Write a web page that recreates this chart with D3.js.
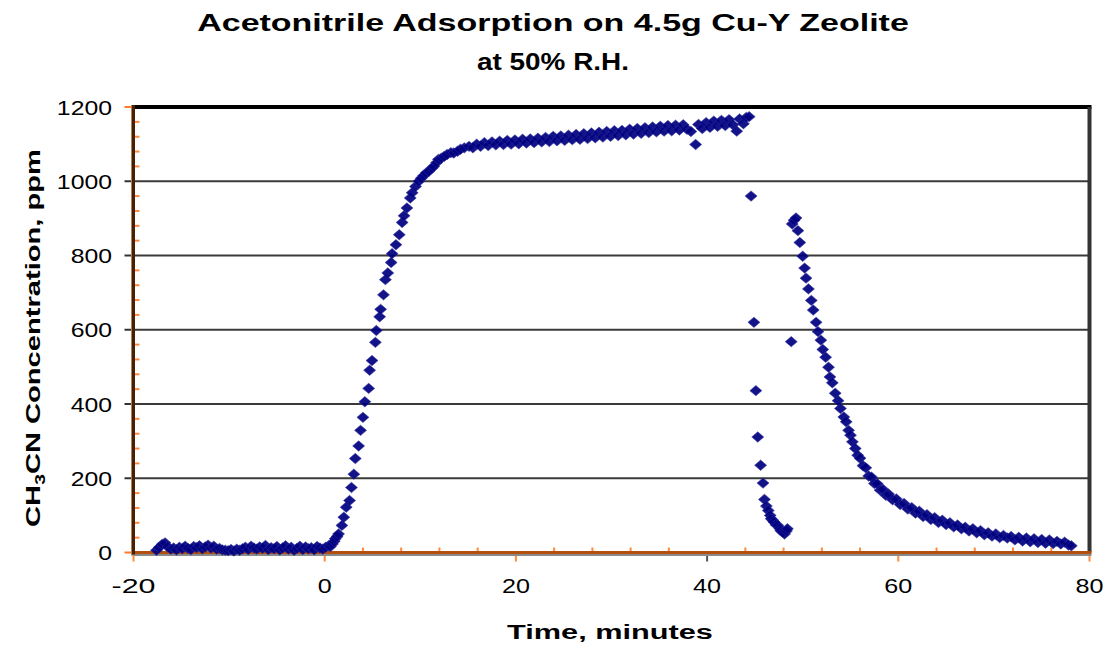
<!DOCTYPE html>
<html><head><meta charset="utf-8">
<script src="https://cdn.jsdelivr.net/npm/d3@7"></script>
<style>html,body{margin:0;padding:0;background:#fff;}svg{display:block;}</style>
</head><body>
<svg id="chart" width="1108" height="646"></svg>
<script>
// ---- data (time in minutes, CH3CN concentration in ppm) ----
const titleLines = ["Acetonitrile Adsorption on 4.5g Cu-Y Zeolite", "at 50% R.H."];
const xLabel = "Time, minutes";
const xTicks = [-20, 0, 20, 40, 60, 80];
const yTicks = [0, 200, 400, 600, 800, 1000, 1200];

const baselineTime = [-17.6,-17.3,-17.0,-16.7,-16.4,-16.1,-15.8,-15.5,-15.2,-14.9,-14.6,-14.3,-14.0,-13.7,-13.4,-13.1,-12.8,-12.5,-12.2,-11.9,-11.6,-11.3,-11.0,-10.7,-10.4,-10.1,-9.8,-9.5,-9.2,-8.9,-8.6,-8.3,-8.0,-7.7,-7.4,-7.1,-6.8,-6.5,-6.2,-5.9,-5.6,-5.3,-5.0,-4.7,-4.4,-4.1,-3.8,-3.5,-3.2,-2.9,-2.6,-2.3,-2.0,-1.7,-1.4,-1.1,-0.8,-0.5,-0.2,0.1,0.4];
const baselineConc = [6,14,22,26,15,9,12,7,14,10,17,11,8,16,13,18,10,15,20,12,17,9,11,7,6,5,8,4,9,6,10,14,8,17,12,9,15,11,19,8,13,10,16,7,12,18,9,14,6,11,17,8,15,10,13,7,16,12,9,14,18];

const riseTime = [0.6,0.8,1.0,1.1,1.3,1.45,1.8,2.0,2.25,2.6,2.8,3.05,3.2,3.55,3.75,4.0,4.2,4.6,4.7,4.95,5.3,5.4,5.75,5.85,6.15,6.35,6.6,6.95,7.05,7.45,7.8,8.1,8.3,8.6,8.95,9.15,9.5,9.85,10.1,10.35,10.6,10.9,11.2,11.4,11.7,11.9,12.2,12.5,12.8,13.2,13.5,13.9,14.2,14.6,15.1];
const riseConc = [16,23,30,37,43,50,73,95,122,140,175,211,253,287,329,364,406,442,491,517,566,598,635,655,694,735,753,781,805,829,856,889,907,928,955,969,986,1000,1008,1015,1022,1027,1035,1040,1050,1059,1062,1067,1072,1077,1076,1081,1086,1090,1094];

const plateauTime = [15.5,15.9,16.3,16.7,17.1,17.5,17.9,18.3,18.7,19.1,19.5,19.9,20.3,20.7,21.1,21.5,21.9,22.3,22.7,23.1,23.5,23.9,24.3,24.7,25.1,25.5,25.9,26.3,26.7,27.1,27.5,27.9,28.3,28.7,29.1,29.5,29.9,30.3,30.7,31.1,31.5,31.9,32.3,32.7,33.1,33.5,33.9,34.3,34.7,35.1,35.5,35.9,36.3,36.7,37.1,37.5,37.9,38.3,38.8,39.1,39.5,39.9,40.3,40.7,41.1,41.5,41.9,42.3,42.7,43.1,43.4,43.8,44.1,44.4];
const plateauConc = [1090,1100,1094,1104,1096,1106,1098,1108,1099,1110,1100,1111,1101,1113,1103,1114,1104,1116,1106,1118,1107,1121,1109,1122,1110,1124,1112,1126,1113,1128,1115,1130,1117,1132,1119,1134,1121,1136,1123,1137,1125,1140,1127,1142,1129,1144,1131,1146,1133,1148,1135,1150,1136,1151,1138,1152,1140,1134,1099,1153,1142,1158,1145,1162,1148,1164,1150,1166,1152,1135,1168,1155,1172,1174];

const dropTime = [44.6,44.9,45.1,45.3,45.6,45.85,46.0,46.2,46.4,46.6,46.7,46.9,47.0,47.2,47.4,47.6,47.7,47.9,48.1,48.3,48.4,48.8];
const dropConc = [960,620,436,311,235,187,143,125,113,100,91,86,82,75,73,65,59,55,50,58,64,568];

const purgeTime = [48.9,49.1,49.3,49.5,49.7,50.0,50.2,50.35,50.6,50.9,51.1,51.4,51.6,51.9,52.1,52.4,52.7,52.85,53.1,53.4,53.7,53.95,54.3,54.55,54.8,55.0,55.2,55.5,55.75,56.0,56.3,56.6,56.9,57.2,57.5,57.8,58.1,58.4,58.7,59.0,59.4,59.8,60.2,60.6,61.0,61.4,61.8,62.2,62.6,63.0,63.4,63.8,64.2,64.6,65.0,65.4,65.8,66.2,66.6,67.0,67.4,67.8,68.2,68.6,69.0,69.4,69.8,70.2,70.6,71.0,71.4,71.8,72.2,72.6,73.0,73.4,73.8,74.2,74.6,75.0,75.4,75.8,76.2,76.6,77.0,77.4,77.8,78.1];
const purgeConc = [885,895,901,867,835,798,766,739,710,679,653,620,595,572,547,526,499,473,457,429,409,388,365,352,329,316,298,280,262,254,234,228,206,203,186,185,168,170,154,157,142,144,129,132,117,121,106,111,97,102,89,94,81,87,75,80,69,74,64,68,58,64,53,59,48,53,44,50,40,46,39,43,34,41,31,39,29,37,27,35,25,34,24,30,23,28,20,18];

// ---- layout ----
const svg = d3.select("#chart");
const plot = {left: 133.5, right: 1089.5, top: 107, bottom: 552.5};
const x = d3.scaleLinear().domain([-20, 80]).range([plot.left, plot.right]);
const y = d3.scaleLinear().domain([0, 1200]).range([plot.bottom, plot.top]);

const FONT = "'Liberation Sans', Arial, sans-serif";

function stretchedText(parent, str, tx, ty, size, weight, anchor, targetW, rotate) {
  const g = parent.append("g");
  const t = g.append("text").attr("x", 0).attr("y", 0)
    .attr("font-family", FONT).attr("font-size", size).attr("font-weight", weight)
    .attr("text-anchor", anchor).attr("fill", "#000").text(str);
  const len = t.node().getComputedTextLength();
  const sx = targetW ? targetW / len : 1;
  g.attr("transform", `translate(${tx},${ty})` + (rotate ? ` rotate(${rotate})` : "") + ` scale(${sx},1)`);
  return t;
}

// gridlines
svg.append("g").selectAll("line").data(yTicks.filter(v => v > 0 && v < 1200)).join("line")
  .attr("x1", plot.left).attr("x2", plot.right)
  .attr("y1", d => y(d)).attr("y2", d => y(d))
  .attr("stroke", "#3a3a3a").attr("stroke-width", 2);

// top and right frame
svg.append("line").attr("x1", plot.left).attr("x2", plot.right + 2).attr("y1", plot.top).attr("y2", plot.top)
  .attr("stroke", "#000").attr("stroke-width", 4);
svg.append("line").attr("x1", plot.right).attr("x2", plot.right).attr("y1", plot.top).attr("y2", plot.bottom)
  .attr("stroke", "#333").attr("stroke-width", 4);

// minor ticks
const xMinor = d3.range(-20, 80.01, 4).filter(v => v % 20 !== 0);
svg.append("g").selectAll("line").data(xMinor).join("line")
  .attr("x1", d => x(d)).attr("x2", d => x(d)).attr("y1", plot.bottom).attr("y2", plot.bottom - 5)
  .attr("stroke", "#ff8a3c").attr("stroke-width", 2);
const yMinor = d3.range(0, 1200.01, 40).filter(v => v % 200 !== 0);
svg.append("g").selectAll("line").data(yMinor).join("line")
  .attr("x1", plot.left).attr("x2", plot.left + 6).attr("y1", d => y(d)).attr("y2", d => y(d))
  .attr("stroke", "#ff8a3c").attr("stroke-width", 2);

// major ticks
svg.append("g").selectAll("line").data(yTicks).join("line")
  .attr("x1", plot.left - 9).attr("x2", plot.left).attr("y1", d => y(d)).attr("y2", d => y(d))
  .attr("stroke", d => (d === 0 || d === 1200) ? "#ff7a2a" : "#333").attr("stroke-width", 2);
svg.append("g").selectAll("line").data(xTicks).join("line")
  .attr("x1", d => x(d)).attr("x2", d => x(d)).attr("y1", plot.bottom).attr("y2", plot.bottom + 9)
  .attr("stroke", d => d === 40 ? "#555" : "#ff8a3c").attr("stroke-width", 2);

// axes lines
svg.append("line").attr("x1", plot.left).attr("x2", plot.right + 2).attr("y1", plot.bottom + 2.5).attr("y2", plot.bottom + 2.5)
  .attr("stroke", "#8a8a8a").attr("stroke-width", 2);
svg.append("line").attr("x1", plot.left).attr("x2", plot.right + 2).attr("y1", plot.bottom).attr("y2", plot.bottom)
  .attr("stroke", "#b4500e").attr("stroke-width", 3);
svg.append("line").attr("x1", plot.left - 1.5).attr("x2", plot.left - 1.5).attr("y1", plot.top - 2).attr("y2", plot.bottom + 3)
  .attr("stroke", "#a6845a").attr("stroke-width", 2);
svg.append("line").attr("x1", plot.left).attr("x2", plot.left).attr("y1", plot.top - 2).attr("y2", plot.bottom + 2)
  .attr("stroke", "#4a1f02").attr("stroke-width", 3);

// data points
const segments = [
  [baselineTime, baselineConc],
  [riseTime, riseConc],
  [plateauTime, plateauConc],
  [dropTime, dropConc],
  [purgeTime, purgeConc]
];
const points = segments.flatMap(([ts, vs]) => ts.map((t, i) => ({t, v: vs[i]})));
svg.append("g").selectAll("path").data(points).join("path")
  .attr("d", "M0,-5.2 L6,0 L0,5.2 L-6,0Z")
  .attr("transform", d => `translate(${x(d.t)},${y(d.v)})`)
  .attr("fill", "#000080").attr("stroke", "#2a2a9a").attr("stroke-width", 0.6).attr("opacity", 0.92);

// tick labels
yTicks.forEach(v => stretchedText(svg, String(v), 112, y(v) + 7.5, 20, "normal", "end", String(v).length * 13.8));
xTicks.forEach(v => stretchedText(svg, String(v), x(v), 593, 20, "normal", "middle", String(v).length * 14 + (v < 0 ? 2 : 0)));

// titles
stretchedText(svg, titleLines[0], 553, 31, 24, "bold", "middle", 712);
stretchedText(svg, titleLines[1], 553, 70, 24, "bold", "middle", 152);
stretchedText(svg, xLabel, 610, 639, 21, "bold", "middle", 206);

// y-axis title with subscript
const yg = svg.append("g");
const yt = yg.append("text").attr("font-family", FONT).attr("font-size", 21).attr("font-weight", "bold")
  .attr("text-anchor", "middle").attr("fill", "#000");
yt.append("tspan").text("CH");
yt.append("tspan").text("3").attr("font-size", 14).attr("dy", 5);
yt.append("tspan").text("CN Concentration, ppm").attr("dy", -5);
const ylen = yt.node().getComputedTextLength();
yg.attr("transform", `translate(40,338) rotate(-90) scale(${378 / ylen},1)`);
</script>
</body></html>
